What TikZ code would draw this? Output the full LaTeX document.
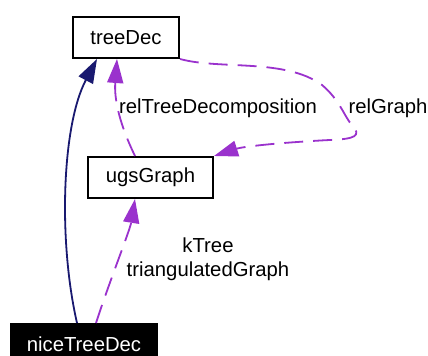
\documentclass[tikz,border=0pt]{standalone}
\usepackage{fontspec}
\setmainfont{Liberation Sans}
\usetikzlibrary{arrows.meta,calc}
\definecolor{navyedge}{HTML}{191970}
\definecolor{purpleedge}{HTML}{9A32CD}
\tikzset{
  classbox/.style={draw=black,line width=1pt,fill=white,minimum height=20.5pt,inner sep=0pt,font=\fontsize{10.15}{12}\selectfont},
  curbox/.style={classbox,fill=black,text=white},
  lbl/.style={font=\fontsize{10.15}{12}\selectfont,inner sep=0pt,align=center},
  inherit/.style={draw=navyedge,line width=0.9pt,-{Triangle[length=12pt,width=8pt]}},
  usage/.style={draw=purpleedge,line width=0.9pt,dash pattern=on 9.5pt off 5pt,-{Triangle[length=12pt,width=8pt]}}
}
\begin{document}
\begin{tikzpicture}[x=0.5pt,y=-0.5pt]
\clip (0,0) rectangle (428,356);
\fill[white] (0,0) rectangle (428,356);
\node[classbox,minimum width=53pt] (td) at (126,37.5) {treeDec};
\node[classbox,minimum width=62.5pt] (ug) at (150.5,177.5) {ugsGraph};
\node[curbox,minimum width=73pt] (nt) at (84,344.5) {niceTreeDec};
% inheritance
\draw[inherit] ($(nt.north)+(-7,0)$) .. controls (58,240) and (62,125) .. ($(td.south)+(-29,0)$);
% relTreeDecomposition
\draw[usage] ($(ug.north)+(-15.5,0)$) .. controls (120,125) and (114,100) .. ($(td.south)+(-9,0)$);
% relGraph
\draw[usage] (td.south east) .. controls (220,70) and (285,58) .. (322,85)
  .. controls (340,100) and (345,118) .. (352,125)
  .. controls (362,136) and (355,139) .. (330,140)
  .. controls (290,142) and (245,146) .. (ug.north east);
% kTree / triangulatedGraph
\draw[usage] ($(nt.north)+(12,0)$) .. controls (110,280) and (130,230) .. ($(ug.south)+(-15.5,0)$);
\node[lbl] (l1) at (218,108) {relTreeDecomposition};
\node[lbl] (l2) at (388,108) {relGraph};
\node[lbl] (l3) at (208,259.5) {kTree\\triangulatedGraph};
\end{tikzpicture}
\end{document}
